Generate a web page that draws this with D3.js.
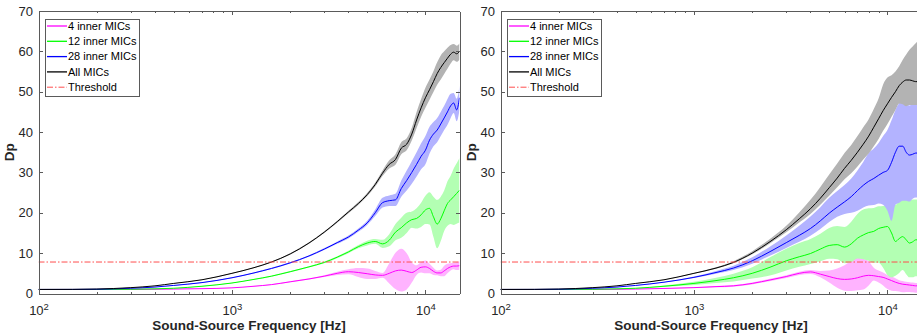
<!DOCTYPE html>
<html>
<head>
<meta charset="utf-8">
<script src="https://cdn.jsdelivr.net/npm/d3@7"></script>
<style>
  body { margin: 0; background: #fff; }
  svg { display: block; font-family: 'Liberation Sans', Arial, sans-serif; }
  .axis path, .axis line { stroke: #5a5a5a; shape-rendering: crispEdges; }
  .axis text { fill: #262626; font-size: 13px; }
  .legend text { fill: #000; font-size: 11px; }
  .label { fill: #262626; font-size: 13.5px; font-weight: bold; }
</style>
</head>
<body>
<div id="chart"></div>
<script>
const freqs = [100, 150, 200, 300, 400, 500, 700, 1000, 1300, 1600, 2000, 2500, 3000, 3500,
  4000, 4500, 5000, 5500, 6000, 6500, 7000, 7500, 8000, 8500, 9000, 9500, 10000, 10500,
  11000, 11500, 12000, 12500, 13000, 13500, 14000, 14500, 15000];
const xMajorTicks = [100, 1000, 10000];
const xMinorTicks = [200, 300, 400, 500, 600, 700, 800, 900, 2000, 3000, 4000, 5000, 6000, 7000, 8000, 9000];
const yTicks = [0, 10, 20, 30, 40, 50, 60, 70];
const threshold = 7.8;
const seriesNames = ['4 inner MICs', '12 inner MICs', '28 inner MICs', 'All MICs'];
const seriesColors = ['#ff00ff', '#00ff00', '#0000ff', '#000000'];
const bandColors = ['#ffb3ff', '#b3ffb3', '#b3b3ff', '#b3b3b3'];

// left panel: mean and half spread (same above and below)
const left4 = [1, 1, 1, 1.02, 1.05, 1.1, 1.2, 1.4, 1.8, 2.2, 2.9, 3.6, 4.3, 5, 5.4, 5.2, 4.9, 4.6, 4.5,
  5, 5.6, 5.8, 5.5, 5.2, 5.8, 6.5, 6.6, 6.2, 5.5, 5.1, 5.1, 5.6, 6.2, 6.6, 6.8, 6.8, 6.9];
const left4Spread = [0, 0, 0, 0, 0, 0.02, 0.03, 0.05, 0.07, 0.1, 0.12, 0.15, 0.2, 0.4, 0.6, 1.1, 1.3, 1,
  0.6, 2.5, 4.5, 5.3, 4.5, 2.5, 1.2, 1.3, 1.6, 1.2, 0.9, 0.6, 0.8, 1.3, 1.2, 0.9, 0.8, 1, 1];
const left12 = [1, 1, 1.01, 1.05, 1.15, 1.3, 1.8, 2.6, 3.5, 4.3, 5.4, 6.6, 7.7, 9, 10.3, 11.6, 12.5, 12.9,
  12.3, 13.2, 15.2, 16.3, 17.5, 18.3, 18.6, 19.5, 20.7, 21.1, 19, 17.2, 18.5, 20.5, 22.3, 23.2, 24, 24.8, 25.6];
const left12Spread = [0, 0, 0, 0, 0.02, 0.03, 0.05, 0.07, 0.1, 0.12, 0.15, 0.18, 0.2, 0.25, 0.3, 0.4, 0.6,
  0.6, 1, 1.5, 2, 2.5, 2.5, 2, 2.5, 3, 3.5, 4, 5, 6, 5.5, 5, 5.5, 6, 7, 7.5, 8];
const left28 = [1, 1.01, 1.05, 1.3, 1.6, 2, 2.7, 3.9, 5.1, 6.2, 7.6, 9.3, 11, 12.6, 14, 15.7, 17.5, 20,
  22.5, 23, 23.2, 26, 28, 30, 32, 34, 35.5, 38, 39.5, 40.5, 42, 43.5, 45, 46.5, 47.2, 45.5, 48.5];
const left28Spread = [0, 0, 0, 0.02, 0.03, 0.05, 0.07, 0.1, 0.12, 0.15, 0.18, 0.2, 0.25, 0.3, 0.35, 0.4,
  0.5, 0.8, 1.2, 1.3, 1.5, 2, 2.5, 2.8, 3, 3.2, 3.5, 3.3, 3, 3, 3, 3, 3.2, 3, 2.5, 2.8, 3];
const leftAll = [1, 1.02, 1.1, 1.45, 1.9, 2.5, 3.4, 5, 6.4, 7.8, 9.8, 12.5, 15.2, 17.8, 20.2, 22.3, 24.5, 27,
  29.8, 32, 33.2, 36, 37, 39.5, 43, 46, 48.5, 50.5, 52.5, 54.5, 56, 57.2, 58.3, 59.3, 59.8, 59.4, 60];
const leftAllSpread = [0, 0, 0, 0.02, 0.03, 0.05, 0.06, 0.08, 0.1, 0.12, 0.15, 0.18, 0.2, 0.25, 0.3, 0.35,
  0.4, 0.5, 0.7, 1, 1.3, 1.5, 1.5, 1.6, 2, 2.2, 2.5, 2.5, 2.6, 2.8, 3, 2.8, 2.6, 2.3, 2, 2, 2];

// right panel: mean, spread above, spread below
const right4 = [1, 1, 1, 1.02, 1.05, 1.1, 1.25, 1.45, 1.7, 1.9, 2.5, 3.4, 4.2, 5,
  5.35, 4.8, 4.2, 3.7, 3.5, 3.6, 3.9, 4.3, 4.5, 4.4, 4.2, 4, 3.6, 3.2,
  2.8, 2.5, 2.3, 2.2, 2.1, 2, 1.9, 1.9, 1.9];
const right4Up = [0, 0, 0, 0.01, 0.02, 0.03, 0.05, 0.1, 0.15, 0.2, 0.25, 0.3, 0.35, 0.4,
  0.5, 0.8, 1.5, 2.5, 3.5, 4.5, 5, 4.3, 3.5, 2, 1.5, 1.2, 1, 1,
  1, 0.8, 0.8, 0.7, 0.7, 0.7, 0.7, 0.7, 0.7];
const right4Down = [0, 0, 0, 0.01, 0.02, 0.03, 0.05, 0.1, 0.15, 0.2, 0.25, 0.3, 0.35, 0.4,
  0.5, 0.8, 1.5, 2.3, 2.8, 3, 3.1, 3.3, 2.5, 1.2, 1.5, 2, 2.5, 2.5,
  2.2, 2, 2, 1.8, 1.7, 1.7, 1.7, 1.7, 1.7];
const right12 = [1, 1, 1.01, 1.05, 1.15, 1.3, 1.8, 2.5, 3.2, 3.9, 5, 6.6, 8.1, 9.1,
  9.9, 11, 11.9, 12.1, 11.5, 12.3, 13.7, 14.5, 15.1, 15.4, 16.1, 16.4, 16.6, 15,
  12.9, 13.6, 14.1, 13.3, 12.5, 12.8, 13.3, 13.3, 13.3];
const right12Up = [0, 0, 0, 0.02, 0.04, 0.05, 0.2, 0.4, 0.7, 1, 1.5, 2.5, 3, 3.4,
  3.6, 3.8, 4.3, 4.6, 5, 5.5, 6, 6.3, 6, 5.8, 5.5, 5.3, 5.2, 7,
  9, 9.5, 10, 10, 10.5, 10.5, 10, 10, 10];
const right12Down = [0, 0, 0, 0.02, 0.04, 0.05, 0.2, 0.4, 0.6, 0.9, 1.3, 2.1, 2.4, 2.5,
  2.6, 3, 3.3, 3.6, 4, 4.5, 5, 6, 7, 7.8, 8.5, 10, 12, 11,
  8.5, 8.5, 8.3, 8.5, 8.5, 8.8, 9, 9, 9];
const right28 = [1, 1.01, 1.05, 1.3, 1.6, 2, 2.8, 4, 5.2, 6.3, 8.1, 10.5, 12.6, 14.4,
  16.1, 18, 19.9, 21.4, 22.7, 24, 25.5, 26.8, 27.8, 28.5, 29.3, 30, 30.5, 32.5,
  35, 36.5, 36.5, 35, 34.3, 34.5, 34.8, 34.8, 34.8];
const right28Up = [0, 0, 0, 0.02, 0.03, 0.04, 0.05, 0.2, 0.4, 0.6, 0.9, 1.3, 1.8, 2.4,
  3, 3.4, 3.8, 4, 4.2, 4.5, 5, 5.8, 7, 7.4, 8, 9, 10, 10.4,
  10.5, 10.7, 11.5, 12, 12.3, 12.4, 12.5, 12.5, 12.5];
const right28Down = [0, 0, 0, 0.02, 0.03, 0.04, 0.05, 0.15, 0.3, 0.5, 0.7, 1, 1.3, 1.6,
  1.8, 2, 2.2, 2.4, 3, 4, 5, 5.5, 6, 6.6, 7, 8, 10, 14.5,
  13, 14, 13.5, 12, 11.5, 11, 11, 11, 11];
const rightAll = [1, 1.02, 1.1, 1.45, 1.9, 2.5, 3.4, 5, 6.3, 7.7, 10, 13, 15.8, 18.5,
  21, 23.6, 26.2, 28.6, 31, 33, 35, 37, 39, 41.2, 43.3, 45.3, 47, 48.6,
  50, 51.5, 52.4, 52.9, 52.9, 52.7, 52.5, 52.5, 52.5];
const rightAllUp = [0, 0, 0, 0.02, 0.03, 0.05, 0.07, 0.1, 0.2, 0.3, 0.5, 0.7, 1, 1.6,
  2.2, 2.8, 3.3, 3.6, 3.8, 3.8, 4, 4.2, 4.2, 4.5, 5, 6.5, 6.5, 5.5,
  5, 4.8, 5.5, 6.3, 7.5, 8.5, 9.5, 10, 10];
const rightAllDown = [0, 0, 0, 0.02, 0.03, 0.05, 0.07, 0.1, 0.15, 0.2, 0.3, 0.4, 0.6, 0.9,
  1.3, 1.6, 2, 2.3, 2.7, 3.2, 3.5, 3.8, 4.3, 4.7, 5, 5, 5, 4.8,
  4.5, 4.4, 5.5, 6.5, 6.2, 6, 5.8, 5.8, 5.8];

const svgWidth = 917;
const svgHeight = 336;
const margin = { top: 11, left: 38.5 };
const panelGap = 462; // distance between the two panels
const width = 421;
const height = 282.5;

const xScale = d3.scaleLog().domain([100, 15000]).range([0, width]);
const yScale = d3.scaleLinear().domain([0, 70]).range([height, 0]);

const line = d3.line()
  .curve(d3.curveMonotoneX)
  .x(d => xScale(d.f))
  .y(d => yScale(d.v));

const band = d3.area()
  .curve(d3.curveMonotoneX)
  .x(d => xScale(d.f))
  .y0(d => yScale(d.v - d.down))
  .y1(d => yScale(d.v + d.up));

const svg = d3.select('#chart').append('svg')
  .attr('width', svgWidth)
  .attr('height', svgHeight);

function drawPanel(idx, groups) {
  const left = margin.left + idx * panelGap;
  const g = svg.append('g')
    .attr('transform', `translate(${left},${margin.top})`);

  g.append('defs').append('clipPath')
    .attr('id', `clip${idx}`)
    .append('rect')
    .attr('width', width)
    .attr('height', height);

  const plot = g.append('g').attr('clip-path', `url(#clip${idx})`);

  const series = groups.map((grp, i) => ({
    name: seriesNames[i],
    color: seriesColors[i],
    fill: bandColors[i],
    points: freqs.map((f, j) => ({ f, v: grp[0][j], up: grp[1][j], down: grp[2][j] })),
  }));

  // shaded spread, drawn in legend order
  series.forEach((s) => {
    plot.append('path')
      .attr('d', band(s.points))
      .attr('fill', s.fill)
      .attr('stroke', 'none');
  });

  series.forEach((s) => {
    plot.append('path')
      .attr('d', line(s.points))
      .attr('fill', 'none')
      .attr('stroke', s.color)
      .attr('stroke-width', 1);
  });

  plot.append('line')
    .attr('x1', 0)
    .attr('x2', width)
    .attr('y1', yScale(threshold))
    .attr('y2', yScale(threshold))
    .attr('stroke', '#ff4d4d')
    .attr('stroke-width', 1)
    .attr('stroke-dasharray', '6,2,1.5,2');

  // axes, ticks point inward
  g.append('g')
    .attr('class', 'axis')
    .attr('transform', `translate(0,${height})`)
    .call(d3.axisBottom(xScale).tickValues(xMajorTicks).tickSize(-4).tickSizeOuter(0).tickPadding(12))
    .call((ax) => {
      const t = ax.selectAll('.tick text').text(null);
      t.append('tspan').text('10');
      t.append('tspan')
        .attr('dy', '-0.55em')
        .style('font-size', '9.5px')
        .text(d => Math.round(Math.log10(d)));
    });

  g.append('g')
    .attr('class', 'axis')
    .attr('transform', `translate(0,${height})`)
    .call(d3.axisBottom(xScale).tickValues(xMinorTicks).tickSize(-2).tickSizeOuter(0).tickFormat(''))
    .call(ax => ax.select('.domain').remove());

  g.append('g')
    .attr('class', 'axis')
    .call(d3.axisTop(xScale).tickValues(xMajorTicks).tickSize(-4).tickSizeOuter(0).tickFormat(''));

  g.append('g')
    .attr('class', 'axis')
    .call(d3.axisTop(xScale).tickValues(xMinorTicks).tickSize(-2).tickSizeOuter(0).tickFormat(''))
    .call(ax => ax.select('.domain').remove());

  g.append('g')
    .attr('class', 'axis')
    .call(d3.axisLeft(yScale).tickValues(yTicks).tickSize(-4).tickSizeOuter(0).tickPadding(5.5));

  g.append('g')
    .attr('class', 'axis')
    .attr('transform', `translate(${width},0)`)
    .call(d3.axisRight(yScale).tickValues(yTicks).tickSize(-4).tickSizeOuter(0).tickFormat(''));

  // axis titles
  g.append('text')
    .attr('class', 'label')
    .attr('x', width / 2)
    .attr('y', 319)
    .attr('text-anchor', 'middle')
    .text('Sound-Source Frequency [Hz]');

  g.append('text')
    .attr('class', 'label')
    .attr('transform', `translate(${-24.5},${height / 2}) rotate(-90)`)
    .attr('text-anchor', 'middle')
    .text('Dp');

  // legend
  const legend = g.append('g')
    .attr('class', 'legend')
    .attr('transform', 'translate(7,8)');

  legend.append('rect')
    .attr('width', 94)
    .attr('height', 77)
    .attr('fill', '#fff')
    .attr('stroke', '#5a5a5a')
    .attr('stroke-width', 1)
    .attr('shape-rendering', 'crispEdges');

  const entries = series.map(s => ({ name: s.name, color: s.color, dash: null }))
    .concat([{ name: 'Threshold', color: '#ff4d4d', dash: '6,2,1.5,2' }]);

  entries.forEach((e, i) => {
    const yy = 7 + i * 15.3;
    legend.append('line')
      .attr('x1', 1.5)
      .attr('x2', 21.5)
      .attr('y1', yy)
      .attr('y2', yy)
      .attr('stroke', e.color)
      .attr('stroke-width', e.dash ? 1 : 1.3)
      .attr('stroke-dasharray', e.dash);
    legend.append('text')
      .attr('x', 22.5)
      .attr('y', yy)
      .attr('dy', '0.35em')
      .text(e.name);
  });
}

drawPanel(0, [[left4, left4Spread, left4Spread], [left12, left12Spread, left12Spread],
  [left28, left28Spread, left28Spread], [leftAll, leftAllSpread, leftAllSpread]]);
drawPanel(1, [[right4, right4Up, right4Down], [right12, right12Up, right12Down],
  [right28, right28Up, right28Down], [rightAll, rightAllUp, rightAllDown]]);
</script>
</body>
</html>
